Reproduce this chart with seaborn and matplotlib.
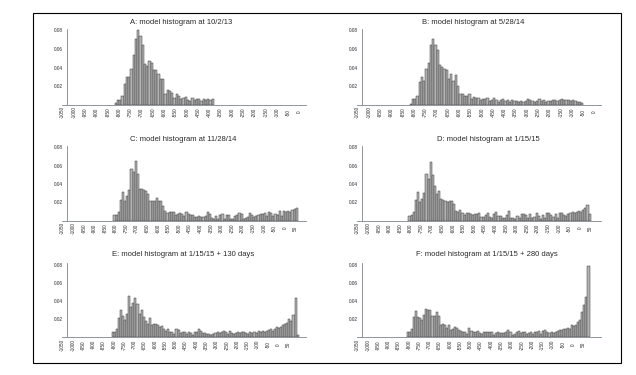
import numpy as np
import matplotlib
matplotlib.use("Agg")
import matplotlib.pyplot as plt
import seaborn as sns
import pandas as pd
from matplotlib.patches import Rectangle
from matplotlib.ticker import MultipleLocator

sns.set_theme(style="white")
plt.rcParams['font.family'] = ['Liberation Sans', 'DejaVu Sans']

# ---------------- data ----------------
titles = ["A: model histogram at 10/2/13",
          "B: model histogram at 5/28/14",
          "C: model histogram at 11/28/14",
          "D: model histogram at 1/15/15",
          "E: model histogram at 1/15/15 + 130 days",
          "F: model histogram at 1/15/15 + 280 days"]

bin_width = 10
first_bin = [-820, -820, -810, -810, -810, -810]
last_tick = [0, 0, 50, 50, 50, 50]

hist_A = [0.0015, 0.0055, 0.0055, 0.009, 0.022, 0.030, 0.0295, 0.0385, 0.054, 0.071,
          0.080, 0.074, 0.064, 0.044, 0.042, 0.047, 0.045, 0.037, 0.037, 0.033,
          0.028, 0.028, 0.012, 0.016, 0.015, 0.013, 0.007, 0.0115, 0.0095, 0.006,
          0.007, 0.008, 0.005, 0.0045, 0.007, 0.005, 0.0065, 0.006, 0.0045, 0.006,
          0.005, 0.006, 0.005, 0.006]

hist_B = [0.001, 0.006, 0.006, 0.009, 0.024, 0.030, 0.026, 0.038, 0.045, 0.064,
          0.071, 0.064, 0.059, 0.043, 0.041, 0.039, 0.037, 0.028, 0.033, 0.026,
          0.032, 0.020, 0.012, 0.011, 0.009, 0.009, 0.011, 0.006, 0.008, 0.007,
          0.007, 0.005, 0.006, 0.006, 0.007, 0.004, 0.005, 0.007, 0.005, 0.003,
          0.005, 0.006, 0.004, 0.005, 0.003, 0.005, 0.004, 0.004, 0.003, 0.004,
          0.003, 0.004, 0.006, 0.005, 0.004, 0.003, 0.004, 0.006, 0.004, 0.005,
          0.003, 0.004, 0.004, 0.005, 0.005, 0.004, 0.005, 0.006, 0.005, 0.005,
          0.005, 0.004, 0.005, 0.004, 0.003, 0.003, 0.002]

hist_C = [0.006, 0.006, 0.009, 0.023, 0.031, 0.021, 0.027, 0.033, 0.056, 0.053,
          0.065, 0.051, 0.035, 0.035, 0.033, 0.032, 0.029, 0.022, 0.021, 0.022,
          0.025, 0.022, 0.022, 0.016, 0.011, 0.008, 0.010, 0.009, 0.009, 0.006,
          0.007, 0.008, 0.007, 0.005, 0.009, 0.007, 0.006, 0.006, 0.004, 0.004,
          0.005, 0.004, 0.004, 0.005, 0.010, 0.007, 0.003, 0.002, 0.005, 0.002,
          0.006, 0.007, 0.002, 0.006, 0.006, 0.002, 0.002, 0.005, 0.006, 0.008,
          0.007, 0.002, 0.003, 0.004, 0.008, 0.006, 0.004, 0.005, 0.006, 0.007,
          0.007, 0.008, 0.005, 0.009, 0.008, 0.005, 0.007, 0.006, 0.011, 0.005,
          0.011, 0.009, 0.011, 0.010, 0.012, 0.013, 0.014]

hist_D = [0.005, 0.006, 0.009, 0.023, 0.031, 0.020, 0.024, 0.030, 0.051, 0.045,
          0.064, 0.050, 0.038, 0.029, 0.032, 0.024, 0.023, 0.022, 0.020, 0.022,
          0.021, 0.018, 0.011, 0.009, 0.012, 0.008, 0.006, 0.008, 0.008, 0.007,
          0.006, 0.007, 0.007, 0.008, 0.004, 0.004, 0.006, 0.008, 0.004, 0.003,
          0.007, 0.009, 0.005, 0.005, 0.003, 0.003, 0.006, 0.011, 0.003, 0.003,
          0.002, 0.005, 0.003, 0.007, 0.007, 0.006, 0.003, 0.007, 0.003, 0.004,
          0.008, 0.005, 0.002, 0.006, 0.003, 0.008, 0.008, 0.006, 0.004, 0.007,
          0.003, 0.008, 0.008, 0.006, 0.005, 0.007, 0.008, 0.009, 0.008, 0.009,
          0.011, 0.010, 0.012, 0.014, 0.017, 0.007]

hist_E = [0.006, 0.006, 0.009, 0.021, 0.030, 0.023, 0.019, 0.026, 0.045, 0.033,
          0.038, 0.043, 0.037, 0.026, 0.030, 0.022, 0.018, 0.015, 0.021, 0.014,
          0.015, 0.015, 0.014, 0.011, 0.012, 0.009, 0.007, 0.009, 0.006, 0.006,
          0.004, 0.009, 0.008, 0.005, 0.006, 0.006, 0.004, 0.006, 0.005, 0.003,
          0.006, 0.006, 0.009, 0.007, 0.005, 0.005, 0.004, 0.004, 0.003, 0.004,
          0.005, 0.006, 0.005, 0.006, 0.007, 0.006, 0.004, 0.007, 0.005, 0.004,
          0.005, 0.006, 0.005, 0.006, 0.006, 0.005, 0.004, 0.006, 0.005, 0.006,
          0.005, 0.007, 0.006, 0.007, 0.006, 0.007, 0.008, 0.009, 0.007, 0.009,
          0.011, 0.010, 0.011, 0.013, 0.015, 0.016, 0.020, 0.018, 0.025, 0.043,
          0.002]

hist_F = [0.006, 0.006, 0.009, 0.022, 0.029, 0.022, 0.021, 0.019, 0.025, 0.031,
          0.030, 0.030, 0.023, 0.024, 0.028, 0.024, 0.014, 0.015, 0.014, 0.010,
          0.013, 0.008, 0.009, 0.011, 0.010, 0.008, 0.007, 0.006, 0.006, 0.004,
          0.010, 0.007, 0.006, 0.006, 0.007, 0.005, 0.004, 0.006, 0.006, 0.006,
          0.006, 0.006, 0.003, 0.005, 0.006, 0.005, 0.005, 0.005, 0.006, 0.008,
          0.006, 0.002, 0.004, 0.006, 0.007, 0.005, 0.006, 0.006, 0.004, 0.005,
          0.006, 0.004, 0.006, 0.006, 0.007, 0.004, 0.007, 0.008, 0.006, 0.005,
          0.006, 0.005, 0.006, 0.007, 0.008, 0.008, 0.009, 0.009, 0.010, 0.009,
          0.013, 0.012, 0.014, 0.017, 0.019, 0.028, 0.036, 0.044, 0.078]

all_hists = [hist_A, hist_B, hist_C, hist_D, hist_E, hist_F]

# ---------------- layout (pixels) ----------------
W, H = 636, 375
fig = plt.figure(figsize=(W / 100, H / 100), dpi=100)

col_lr = [(62, 306), (357, 601)]
row_tb = [(29.1, 104.7), (145.9, 220.7), (263.3, 337.3)]
xlims = [(-1053, 28), (-1053, 28), (-1053, 99), (-1053, 99), (-1053, 136), (-1053, 136)]
title_xy = [(181, 23), (473, 23), (183, 140), (488, 140), (183, 255), (487, 255)]

bar_face = "#b3b3b3"
bar_edge = "#3a3a3a"
axis_col = "#7d8590"
text_col = "#2a2a2a"

for i, vals in enumerate(all_hists):
    col = i % 2
    row = i // 2
    l, r = col_lr[col]
    t, b = row_tb[row]
    ax = fig.add_axes([l / W, 1 - b / H, (r - l) / W, (b - t) / H])
    n = len(vals)
    edges = [float(first_bin[i] + bin_width * k) for k in range(n + 1)]
    centers = [e + bin_width / 2 for e in edges[:-1]]
    df = pd.DataFrame({"x": centers, "w": vals})
    sns.histplot(data=df, x="x", weights="w", bins=edges, stat="count",
                 color=bar_face, alpha=1, edgecolor=bar_edge, linewidth=0.35, ax=ax)
    ax.set_xlim(*xlims[i])
    ax.set_ylim(0, 0.0815)
    ax.set_xlabel("")
    ax.set_ylabel("")
    ax.set_facecolor("none")
    for s in ["top", "right"]:
        ax.spines[s].set_visible(False)
    ax.spines["left"].set_position(("axes", 0.019))
    for s in ["left", "bottom"]:
        ax.spines[s].set_color(axis_col)
        ax.spines[s].set_linewidth(0.6)

    xt = np.arange(-1050, last_tick[i] + 1, 50)
    ax.set_xticks(xt)
    ax.set_xticklabels([str(v) for v in xt])
    ax.tick_params(axis="x", which="major", direction="in", length=2.2, width=0.4,
                   color=axis_col, pad=5.4, labelsize=3.4, labelcolor=text_col,
                   labelrotation=90)
    for tk in ax.xaxis.get_major_ticks():
        tk.label1.set_verticalalignment("center")

    ax.set_yticks([0.02, 0.04, 0.06, 0.08])
    ax.set_yticklabels(["0.02", "0.04", "0.06", "0.08"])
    ax.yaxis.set_minor_locator(MultipleLocator(0.005))
    ax.tick_params(axis="y", which="major", direction="in", length=2.5, width=0.4,
                   color=axis_col, pad=2.5, labelsize=3.4, labelcolor=text_col)
    ax.tick_params(axis="y", which="minor", direction="in", length=1.2, width=0.3,
                   color=axis_col)

    cx, cy = title_xy[i]
    fig.text(cx / W, 1 - cy / H, titles[i], ha="center", va="center",
             fontsize=5.5, color=text_col)

# outer frame
fig.patches.append(Rectangle((32.5 / W, 1 - 363.3 / H), (621 - 32.5) / W, (363.3 - 13.3) / H,
                             transform=fig.transFigure, fill=False,
                             edgecolor="black", linewidth=0.8))

fig.savefig("out.png", dpi=100)
